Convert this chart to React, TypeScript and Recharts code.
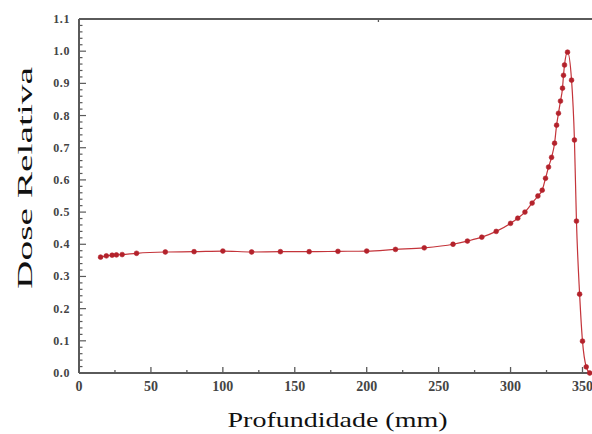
import { LineChart, Line, XAxis, YAxis, Label } from 'recharts';

// depth (mm) and relative dose
const depthMm = [
  15, 19, 23, 26, 30, 40, 60, 80, 100, 120, 140, 160, 180, 200, 220, 240, 260, 270, 280, 290,
  300, 305, 310, 315, 319, 322, 324.3, 326.4, 328.5, 330.6, 332, 333.3, 334.7, 336.1, 336.8,
  337.5, 339.6, 342.4, 344.4, 345.8, 348, 350, 352.6, 355,
];
const relativeDose = [
  0.36, 0.364, 0.366, 0.367, 0.368, 0.372, 0.376, 0.377, 0.379, 0.376, 0.377, 0.377, 0.378,
  0.379, 0.384, 0.389, 0.4, 0.41, 0.422, 0.44, 0.465, 0.481, 0.5, 0.528, 0.55, 0.568, 0.605,
  0.64, 0.67, 0.714, 0.77, 0.807, 0.845, 0.885, 0.925, 0.957, 0.997, 0.91, 0.724, 0.472, 0.245,
  0.099, 0.019, 0,
];

const xMajorTicks = [0, 50, 100, 150, 200, 250, 300, 350];
const xMinorStep = 25;
const yMajorTicks = [0, 0.1, 0.2, 0.3, 0.4, 0.5, 0.6, 0.7, 0.8, 0.9, 1.0, 1.1];
const yMinorPerMajor = 5;

const xLabel = 'Profundidade (mm)';
const yLabel = 'Dose Relativa';

const data = depthMm.map((d, i) => ({ depth: d, dose: relativeDose[i] }));

const xTicks: number[] = [];
for (let v = 0; v <= 350; v += xMinorStep) xTicks.push(v);
const yTicks: number[] = [];
for (let i = 0; i < yMajorTicks.length; i++) {
  yTicks.push(yMajorTicks[i]);
  if (i < yMajorTicks.length - 1) {
    const step = (yMajorTicks[i + 1] - yMajorTicks[i]) / yMinorPerMajor;
    for (let k = 1; k < yMinorPerMajor; k++) yTicks.push(+(yMajorTicks[i] + k * step).toFixed(3));
  }
}

const AXIS = '#5a5a5a';
const LINE = '#c4343a';
const DOT = '#b3222b';
const serif = { fontFamily: "'Liberation Serif', 'Times New Roman', Times, serif" };

const isMajorX = (v: number) => xMajorTicks.includes(v);
const isMajorY = (v: number) => yMajorTicks.some((m) => Math.abs(m - v) < 1e-6);

const BottomTick = (props: any) => {
  const { x, y, payload } = props;
  const major = isMajorX(payload.value);
  return (
    <g>
      <line x1={x} x2={x} y1={y} y2={y - (major ? 6 : 3)} stroke={AXIS} strokeWidth={1.3} />
      {major && (
        <text x={x} y={y + 18} textAnchor="middle" style={serif} fontSize={14} fontWeight="bold" fill="#444">
          {payload.value}
        </text>
      )}
    </g>
  );
};

const TopTick = (props: any) => {
  const { x, y, payload } = props;
  const major = isMajorX(payload.value);
  return <line x1={x} x2={x} y1={y} y2={y + (major ? 6 : 3)} stroke={AXIS} strokeWidth={1.3} />;
};

const LeftTick = (props: any) => {
  const { x, y, payload } = props;
  const major = isMajorY(payload.value);
  return (
    <g>
      <line x1={x} x2={x + (major ? 7 : 3.5)} y1={y} y2={y} stroke={AXIS} strokeWidth={1.2} />
      {major && (
        <text x={x - 9} y={y + 4} textAnchor="end" style={serif} fontSize={12} fontWeight="bold" letterSpacing={0.6} fill="#444">
          {payload.value.toFixed(1)}
        </text>
      )}
    </g>
  );
};

const RightTick = (props: any) => {
  const { x, y } = props;
  return <line x1={x} x2={x - 6} y1={y} y2={y} stroke={AXIS} strokeWidth={1.2} />;
};

export default function App() {
  return (
    <div style={{ position: 'absolute', left: 0, top: 0, width: 592, height: 434, overflow: 'hidden', background: '#fff' }}>
      <LineChart width={600} height={434} data={data} margin={{ top: 0, right: 0, bottom: 0, left: 0 }}>
        <XAxis
          dataKey="depth"
          type="number"
          domain={[0, 358]}
          ticks={xTicks}
          interval={0}
          tickSize={0}
          tickMargin={0}
          tickLine={false}
          tick={<BottomTick />}
          axisLine={{ stroke: AXIS, strokeWidth: 2 }}
          height={61}
        >
          <Label
            content={(p: any) => {
              const vb = p.viewBox;
              return (
                <text
                  x={vb.x + vb.width / 2 + 1}
                  y={vb.y + 54}
                  textAnchor="middle"
                  style={serif}
                  fontSize={21}
                  fill="#111"
                  textLength={220}
                  lengthAdjust="spacingAndGlyphs"
                >
                  {xLabel}
                </text>
              );
            }}
          />
        </XAxis>
        <XAxis
          xAxisId="top"
          orientation="top"
          type="number"
          domain={[0, 358]}
          ticks={xTicks}
          interval={0}
          tickSize={0}
          tickMargin={0}
          tickLine={false}
          tick={<TopTick />}
          axisLine={{ stroke: AXIS, strokeWidth: 2 }}
          height={19}
        />
        <YAxis
          type="number"
          domain={[0, 1.1]}
          ticks={yTicks}
          interval={0}
          tickSize={0}
          tickMargin={0}
          tickLine={false}
          tick={<LeftTick />}
          axisLine={{ stroke: AXIS, strokeWidth: 2 }}
          width={79}
        >
          <Label
            content={(p: any) => {
              const vb = p.viewBox;
              const cy = vb.y + vb.height / 2 - 18;
              return (
                <text
                  transform={`translate(32, ${cy}) rotate(-90)`}
                  textAnchor="middle"
                  style={serif}
                  fontSize={21}
                  fill="#111"
                  textLength={222}
                  lengthAdjust="spacingAndGlyphs"
                >
                  {yLabel}
                </text>
              );
            }}
          />
        </YAxis>
        <YAxis
          yAxisId="right"
          orientation="right"
          type="number"
          domain={[0, 1.1]}
          ticks={yMajorTicks}
          interval={0}
          tickSize={0}
          tickMargin={0}
          tickLine={false}
          tick={<RightTick />}
          axisLine={{ stroke: AXIS, strokeWidth: 2 }}
          width={6}
        />
        <Line
          type="monotone"
          dataKey="dose"
          stroke={LINE}
          strokeWidth={1.2}
          dot={{ r: 2.4, fill: DOT, stroke: DOT, strokeWidth: 0.6 }}
          isAnimationActive={false}
        />
      </LineChart>
    </div>
  );
}
